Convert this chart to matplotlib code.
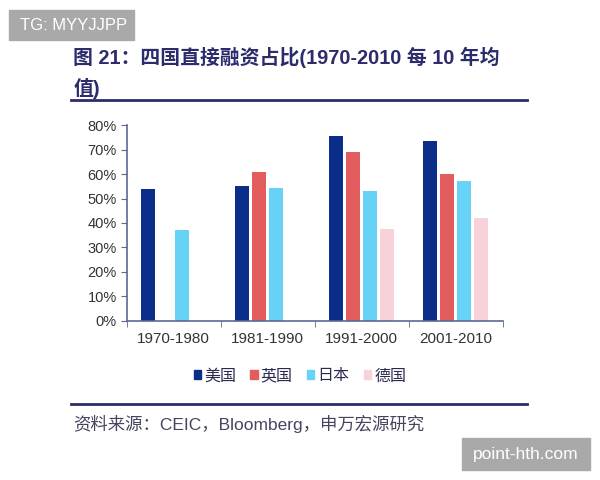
import numpy as np
import matplotlib.pyplot as plt
from matplotlib.patches import Patch, Rectangle
from matplotlib.lines import Line2D

plt.rcParams['font.family'] = ['Liberation Sans', 'Noto Sans CJK SC', 'DejaVu Sans']

# data (share of direct financing, decade averages)
periods = ["1970-1980", "1981-1990", "1991-2000", "2001-2010"]
countries = ["美国", "英国", "日本", "德国"]
us = [0.54, 0.55, 0.755, 0.735]
uk = [np.nan, 0.61, 0.69, 0.60]
japan = [0.37, 0.545, 0.53, 0.57]
germany = [np.nan, np.nan, 0.375, 0.42]
colors = ["#0b2d8a", "#e35d5e", "#66d3f6", "#f7d2d8"]
yticks = [0, 0.1, 0.2, 0.3, 0.4, 0.5, 0.6, 0.7, 0.8]

fig = plt.figure(figsize=(6, 4.8), dpi=100)
ax = fig.add_axes([0.211, 0.332, 0.627, 0.407])

x = np.arange(len(periods))
w = 0.15
step = 0.18
series = [us, uk, japan, germany]
for i, vals in enumerate(series):
    ax.bar(x - 0.5 + 0.15 + w / 2 + i * step, vals, width=w, color=colors[i])

axis_col = "#5b6896"
ax.set_xlim(-0.5, len(periods) - 0.5)
ax.set_ylim(0, 0.8)
ax.set_yticks(yticks)
ax.set_yticklabels([f"{int(round(v * 100))}%" for v in yticks])
ax.set_xticks(x)
ax.set_xticklabels(periods)
ax.set_xticks(np.arange(len(periods) + 1) - 0.5, minor=True)
ax.tick_params(axis="x", which="major", length=0, pad=8, labelsize=11, labelcolor="#333333")
ax.tick_params(axis="x", which="minor", length=4, color=axis_col, direction="out")
ax.tick_params(axis="y", length=4, color=axis_col, pad=3, labelsize=10.5, labelcolor="#333333")
for s in ["top", "right"]:
    ax.spines[s].set_visible(False)
for s in ["left", "bottom"]:
    ax.spines[s].set_color(axis_col)
    ax.spines[s].set_linewidth(1.2)

handles = [Patch(color=c) for c in colors]
fig.legend(handles, countries, loc="center", bbox_to_anchor=(0.5, 0.217), ncol=4,
           frameon=False, handlelength=0.45, handleheight=0.45, handletextpad=0.2,
           columnspacing=0.9, fontsize=11.5, labelcolor="#2a2a50")

navy = "#2c2b6b"
fig.text(0.122, 1 - 57 / 480, "图 21：四国直接融资占比(1970-2010 每 10 年均",
         fontsize=14.3, fontweight="bold", color=navy, va="center")
fig.text(0.122, 1 - 88 / 480, "值)", fontsize=14.3, fontweight="bold", color=navy, va="center")
fig.add_artist(Line2D([71 / 600, 527 / 600], [1 - 100 / 480] * 2, color=navy, lw=2))
fig.add_artist(Line2D([71 / 600, 527 / 600], [1 - 404 / 480] * 2, color=navy, lw=2))

fig.text(0.122, 1 - 424 / 480, "资料来源：CEIC，Bloomberg，申万宏源研究",
         fontsize=12.5, color="#45455e", va="center")

# watermarks
fig.add_artist(Rectangle((9 / 600, 1 - 40 / 480), 125 / 600, 30 / 480,
                         transform=fig.transFigure, color="#a9a9a9"))
fig.text(20 / 600, 1 - 25 / 480, "TG: MYYJJPP", color="white", fontsize=12, va="center")
fig.add_artist(Rectangle((462 / 600, 1 - 470 / 480), 128 / 600, 32 / 480,
                         transform=fig.transFigure, color="#a9a9a9"))
fig.text(526 / 600, 1 - 454 / 480, "point-hth.com", color="white", fontsize=12.5,
         va="center", ha="center")

fig.savefig("out.png", dpi=100)
